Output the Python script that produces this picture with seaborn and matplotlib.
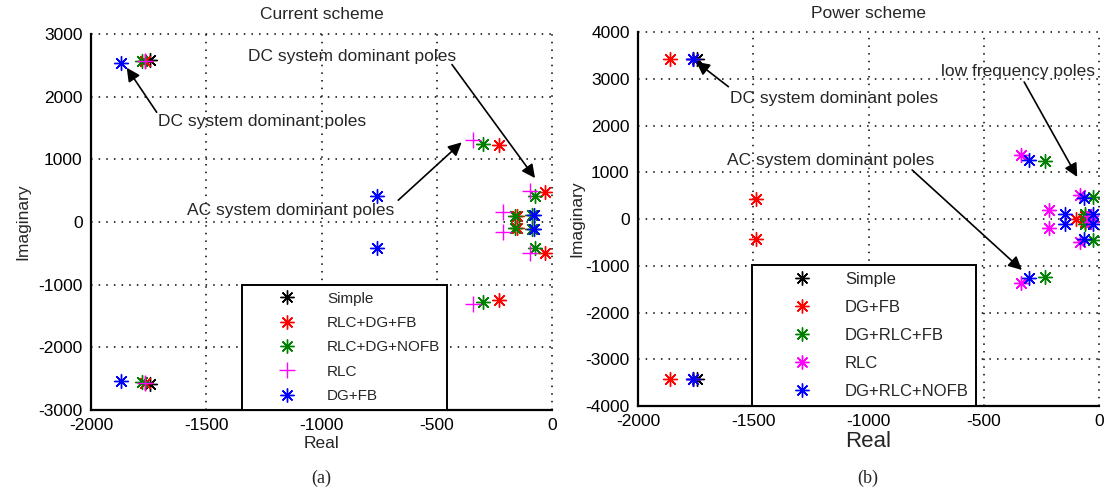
import matplotlib
matplotlib.use("Agg")
import matplotlib.pyplot as plt
from matplotlib.lines import Line2D
import seaborn as sns

# ---------------- data: pole locations (real, imaginary) ----------------
# Current scheme
cur_names = ["Simple", "RLC+DG+FB", "RLC+DG+NOFB", "RLC", "DG+FB"]
cur_simple_re = [-1745, -1745]
cur_simple_im = [2580, -2580]
cur_rlcdgfb_re = [-1765, -1765, -230, -230, -32, -32, -150, -150]
cur_rlcdgfb_im = [2570, -2570, 1230, -1250, 480, -490, 95, -95]
cur_rlcdgnofb_re = [-1780, -1780, -300, -300, -75, -75, -160, -160, -85, -85]
cur_rlcdgnofb_im = [2560, -2560, 1250, -1270, 420, -420, 95, -95, 110, -110]
cur_rlc_re = [-1765, -1765, -345, -345, -95, -95, -212, -212]
cur_rlc_im = [2575, -2575, 1300, -1310, 490, -500, 160, -160]
cur_dgfb_re = [-1870, -1870, -760, -760, -80, -80]
cur_dgfb_im = [2540, -2540, 420, -420, 110, -110]

# Power scheme
pow_names = ["Simple", "DG+FB", "DG+RLC+FB", "RLC", "DG+RLC+NOFB"]
pow_simple_re = [-1745, -1745]
pow_simple_im = [3420, -3420]
pow_dgfb_re = [-1860, -1860, -1490, -1490, -100, -60, -60]
pow_dgfb_im = [3420, -3420, 430, -430, 0, 70, -70]
pow_dgrlcfb_re = [-1760, -1760, -235, -235, -28, -28, -60, -60]
pow_dgrlcfb_im = [3420, -3420, 1240, -1230, 470, -440, 100, -100]
pow_rlc_re = [-1760, -1760, -338, -338, -82, -82, -218, -218, -35, -35]
pow_rlc_im = [3420, -3420, 1365, -1365, 510, -500, 185, -185, 55, -55]
pow_dgrlcnofb_re = [-1760, -1760, -302, -302, -67, -67, -147, -147, -28, -28]
pow_dgrlcnofb_im = [3420, -3420, 1265, -1255, 445, -425, 115, -115, 115, -115]

x_ticks = [-2000, -1500, -1000, -500, 0]
cur_y_ticks = [-3000, -2000, -1000, 0, 1000, 2000, 3000]
pow_y_ticks = [-4000, -3000, -2000, -1000, 0, 1000, 2000, 3000, 4000]

# ---------------- style ----------------
sns.set_style("white")
plt.rcParams["font.family"] = ["Liberation Sans", "DejaVu Sans"]
plt.rcParams["axes.unicode_minus"] = False

colors = ["black", "red", "green", "magenta", "blue"]
STAR = (8, 2, 0)
cur_markers = [STAR, STAR, STAR, "+", STAR]
pow_markers = [STAR, STAR, STAR, STAR, STAR]

fig = plt.figure(figsize=(11.11, 4.91), dpi=100)
ax1 = fig.add_axes([0.0819, 0.165, 0.415, 0.766])
ax2 = fig.add_axes([0.5743, 0.1731, 0.415, 0.7617])

FS = 12.5


def draw_series(ax, series, markers):
    for (re, im), m, c in zip(series, markers, colors):
        size = 125 if m == "+" else 100
        sns.scatterplot(x=re, y=im, marker=m, color=c, s=size,
                        linewidth=1.0, ax=ax, legend=False, zorder=3)


def style_axes(ax, yticks, ylim):
    ax.set_xlim(-2000, 0)
    ax.set_ylim(*ylim)
    ax.set_xticks(x_ticks)
    ax.set_yticks(yticks)
    ax.tick_params(direction="in", length=4, width=1.2, labelsize=FS,
                   pad=6, colors="black")
    ax.grid(True, color="black", linestyle=(0, (1, 4)), linewidth=1.1)
    ax.set_axisbelow(True)
    for side in ("top", "right"):
        ax.spines[side].set_visible(False)
    for side in ("left", "bottom"):
        ax.spines[side].set_color("black")
        ax.spines[side].set_linewidth(1.6)
    for gl in ax.get_xgridlines() + ax.get_ygridlines():
        gl.set_clip_on(False)


def make_legend(ax, names, markers, x0, fs, ls):
    handles = [Line2D([], [], linestyle="none", marker=m, color=c,
                      markersize=10 if m != "+" else 11,
                      markeredgewidth=1.0)
               for m, c in zip(markers, colors)]
    leg = ax.legend(handles, names, loc="lower left",
                    bbox_to_anchor=(x0, 0.0), borderaxespad=0.0,
                    fontsize=fs, frameon=True, fancybox=False,
                    borderpad=0.45, handlelength=5.0, handletextpad=0.1,
                    labelspacing=ls)
    fr = leg.get_frame()
    fr.set_edgecolor("black")
    fr.set_linewidth(1.4)
    fr.set_facecolor("white")
    fr.set_alpha(1.0)
    leg.set_zorder(5)
    return leg


arrow = dict(arrowstyle="-|>", color="black", lw=1.2,
             mutation_scale=20, shrinkA=0, shrinkB=0)

# ---------------- (a) current scheme ----------------
cur_series = [(cur_simple_re, cur_simple_im), (cur_rlcdgfb_re, cur_rlcdgfb_im),
              (cur_rlcdgnofb_re, cur_rlcdgnofb_im), (cur_rlc_re, cur_rlc_im),
              (cur_dgfb_re, cur_dgfb_im)]
draw_series(ax1, cur_series, cur_markers)
style_axes(ax1, cur_y_ticks, (-3000, 3000))
ax1.set_title("Current scheme", fontsize=FS, pad=11)
ax1.set_xlabel("Real", fontsize=FS, labelpad=2)
ax1.set_ylabel("Imaginary", fontsize=FS, labelpad=6)
make_legend(ax1, cur_names, cur_markers, 0.328, 11, 0.68)

ax1.annotate("", xy=(-1845, 2460), xytext=(-1715, 1750), arrowprops=arrow)
ax1.text(-1709, 1605, "DC system dominant poles", fontsize=FS, va="center")
ax1.annotate("", xy=(-74, 700), xytext=(-434, 2510), arrowprops=arrow)
ax1.text(-1319, 2640, "DC system dominant poles", fontsize=FS, va="center")
ax1.annotate("", xy=(-392, 1270), xytext=(-667, 347), arrowprops=arrow)
ax1.text(-1584, 176, "AC system dominant poles", fontsize=FS, va="center")

# ---------------- (b) power scheme ----------------
pow_series = [(pow_simple_re, pow_simple_im), (pow_dgfb_re, pow_dgfb_im),
              (pow_dgrlcfb_re, pow_dgrlcfb_im), (pow_rlc_re, pow_rlc_im),
              (pow_dgrlcnofb_re, pow_dgrlcnofb_im)]
draw_series(ax2, pow_series, pow_markers)
style_axes(ax2, pow_y_ticks, (-4000, 4000))
ax2.set_title("Power scheme", fontsize=FS, pad=10)
ax2.set_xlabel("Real", fontsize=16, labelpad=1)
ax2.set_ylabel("Imaginary", fontsize=FS, labelpad=1)
make_legend(ax2, pow_names, pow_markers, 0.248, 12, 0.77)

ax2.annotate("", xy=(-1748, 3365), xytext=(-1608, 2830), arrowprops=arrow)
ax2.text(-1601, 2582, "DC system dominant poles", fontsize=FS, va="center")
ax2.annotate("", xy=(-95, 900), xytext=(-325, 2930), arrowprops=arrow)
ax2.text(-685, 3151, "low frequency poles", fontsize=FS, va="center",
         clip_on=False)
ax2.annotate("", xy=(-335, -1090), xytext=(-811, 1048), arrowprops=arrow)
ax2.text(-1614, 1262, "AC system dominant poles", fontsize=FS, va="center")

fig.text(321 / 1111, 1 - 478 / 491, "(a)", fontsize=13, ha="center",
         va="center", family=["Liberation Serif", "DejaVu Serif"])
fig.text(868 / 1111, 1 - 478 / 491, "(b)", fontsize=13, ha="center",
         va="center", family=["Liberation Serif", "DejaVu Serif"])

fig.savefig("out.png", dpi=100, facecolor="white")
